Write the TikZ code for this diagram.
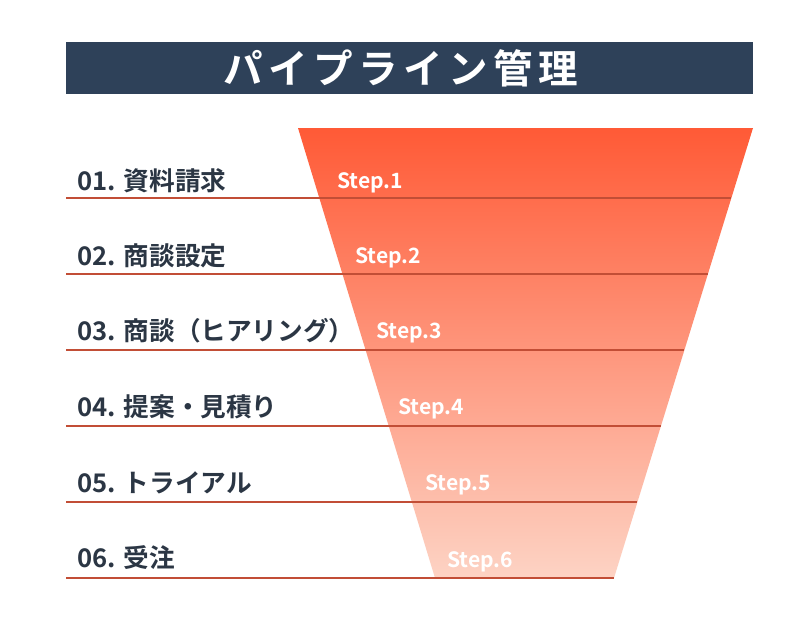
\documentclass[tikz,border=0pt]{standalone}
\usepackage{fontspec}
\setmainfont{Noto Sans CJK JP}[BoldFont={Noto Sans CJK JP Bold}]
\usepackage{xcolor}
\definecolor{navy}{HTML}{2E4159}
\definecolor{ink}{HTML}{2B3644}
\definecolor{flame}{HTML}{FF5A36}
\definecolor{blush}{HTML}{FDD3C4}
\definecolor{rust}{HTML}{C24E36}

\begin{document}
\begin{tikzpicture}[
    x=0.2mm, y=-0.2mm,
    stage/.style={
        anchor=west,
        inner sep=0pt,
        text=ink,
        font=\fontsize{14.6}{18}\selectfont\bfseries,
    },
    steplabel/.style={
        anchor=west,
        inner sep=0pt,
        text=white,
        font=\fontsize{12}{15}\selectfont\bfseries,
    },
    rule/.style={draw=rust, line width=1.1pt},
]

\useasboundingbox (0, 0) rectangle (800, 630);
\fill[white] (0, 0) rectangle (800, 630);

% title bar
\fill[navy] (66, 42) rectangle (753, 94);
\node[text=white, font=\fontsize{22.5}{26}\selectfont\bfseries\addfontfeature{LetterSpace=14}] (title) at (401, 68) {パイプライン管理};

% funnel
\shade[top color=flame, bottom color=blush] (298, 128) -- (753, 128) -- (614, 578) -- (435, 578) -- cycle;

% rule ends
\coordinate (R1a) at (66, 198); \coordinate (R1b) at (731, 198);
\coordinate (R2a) at (66, 274); \coordinate (R2b) at (708, 274);
\coordinate (R3a) at (66, 350); \coordinate (R3b) at (684, 350);
\coordinate (R4a) at (66, 426); \coordinate (R4b) at (661, 426);
\coordinate (R5a) at (66, 502); \coordinate (R5b) at (637, 502);
\coordinate (R6a) at (66, 578); \coordinate (R6b) at (614, 578);

\draw[rule] (R1a) -- (R1b);
\draw[rule] (R2a) -- (R2b);
\draw[rule] (R3a) -- (R3b);
\draw[rule] (R4a) -- (R4b);
\draw[rule] (R5a) -- (R5b);
\draw[rule] (R6a) -- (R6b);

% stages
\node[stage] (S1) at (77, 181) {01. 資料請求};
\node[stage] (S2) at (77, 256) {02. 商談設定};
\node[stage] (S3) at (77, 331) {03. 商談（ヒアリング）};
\node[stage] (S4) at (77, 407) {04. 提案・見積り};
\node[stage] (S5) at (77, 483) {05. トライアル};
\node[stage] (S6) at (77, 558) {06. 受注};

% steps
\node[steplabel] (T1) at (337, 183) {Step.1};
\node[steplabel] (T2) at (355, 258) {Step.2};
\node[steplabel] (T3) at (376, 333) {Step.3};
\node[steplabel] (T4) at (398, 409) {Step.4};
\node[steplabel] (T5) at (425, 485) {Step.5};
\node[steplabel] (T6) at (447, 562) {Step.6};

\end{tikzpicture}
\end{document}
